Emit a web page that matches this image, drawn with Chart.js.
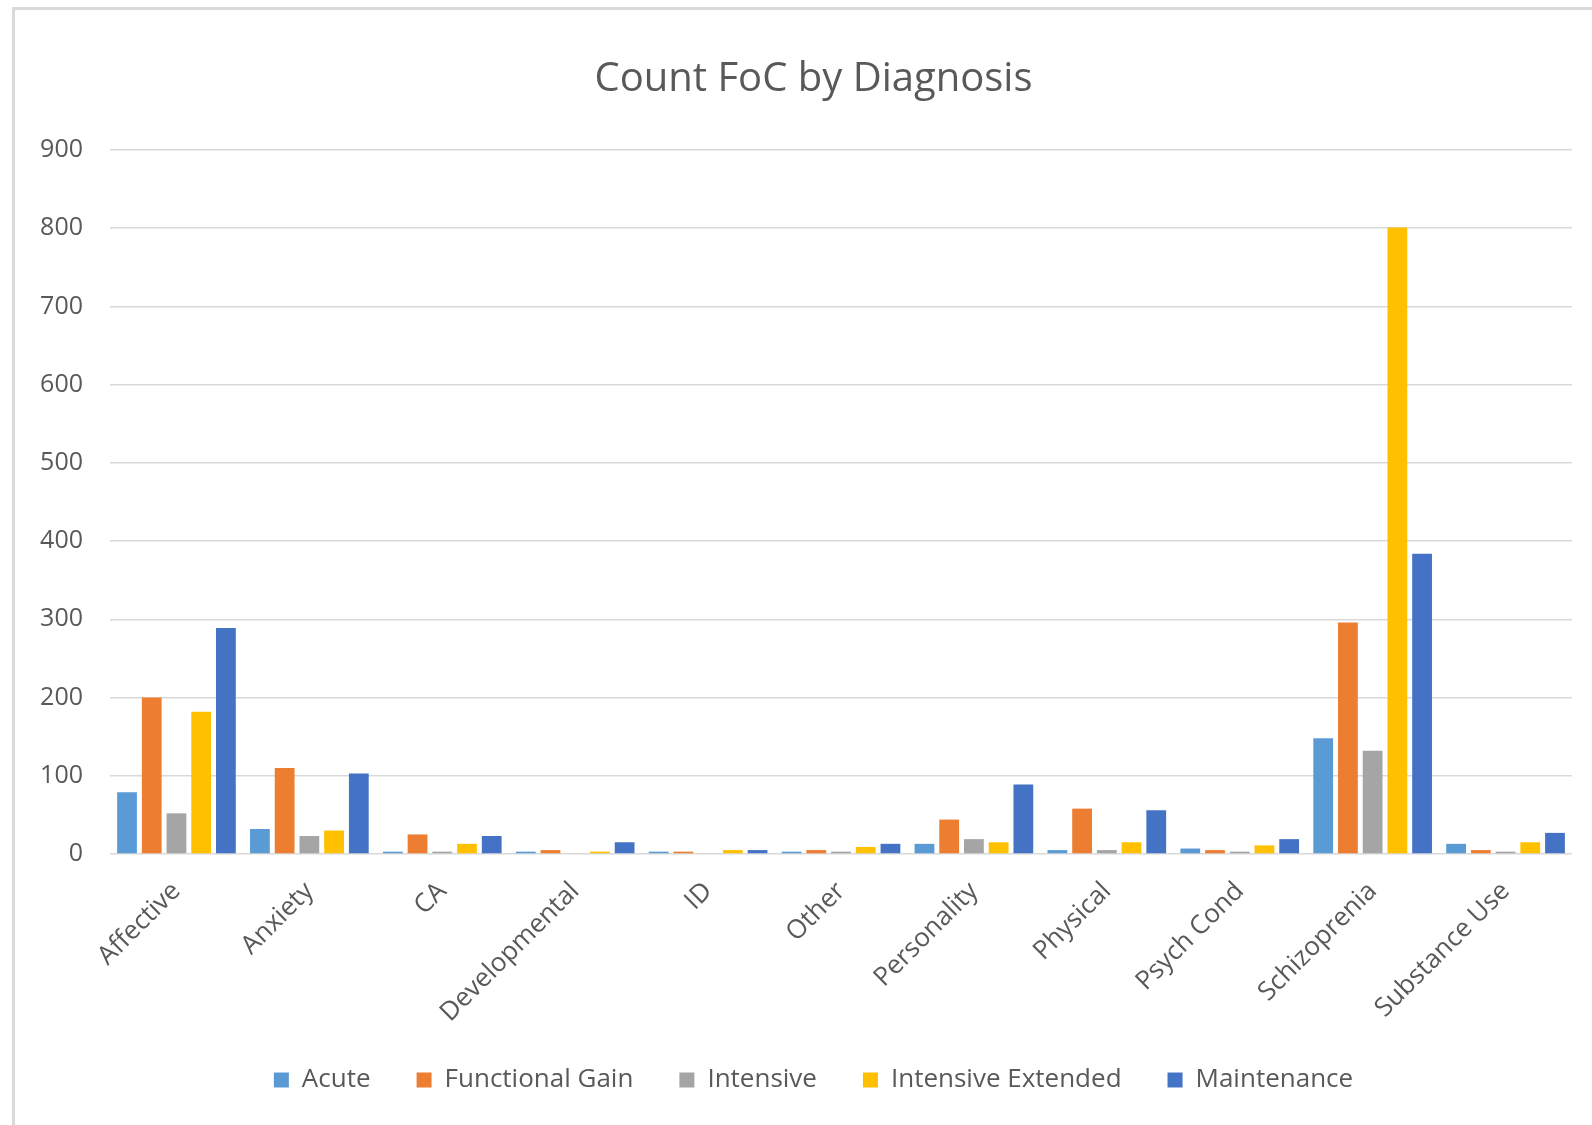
<!DOCTYPE html>
<html>
<head>
<meta charset="utf-8">
<script src="https://cdn.jsdelivr.net/npm/chart.js@4"></script>
<style>
  html, body { margin: 0; padding: 0; background: #fff; }
  #wrap { position: absolute; left: 0; top: 0; width: 1592px; height: 1125px; }
  #frame { position: absolute; left: 12px; top: 7px; width: 1600px; height: 1200px; border: 3px solid #d9d9d9; box-sizing: border-box; pointer-events: none; }
</style>
</head>
<body>
<div id="wrap"><canvas id="c" width="1592" height="1125"></canvas></div>
<div id="frame"></div>
<script>
const categories = ["Affective", "Anxiety", "CA", "Developmental", "ID", "Other", "Personality", "Physical", "Psych Cond", "Schizoprenia", "Substance Use"];
const acute             = [79, 32, 3, 3, 3, 3, 13, 5, 7, 148, 13];
const functionalGain    = [200, 110, 25, 5, 3, 5, 44, 58, 5, 296, 5];
const intensive         = [52, 23, 3, 0, 0, 3, 19, 5, 3, 132, 3];
const intensiveExtended = [182, 30, 13, 3, 5, 9, 15, 15, 11, 801, 15];
const maintenance       = [289, 103, 23, 15, 5, 13, 89, 56, 19, 384, 27];
const seriesNames = ["Acute", "Functional Gain", "Intensive", "Intensive Extended", "Maintenance"];
const yTicks = [0, 100, 200, 300, 400, 500, 600, 700, 800, 900];

const colors = ["#5B9BD5", "#ED7D31", "#A5A5A5", "#FFC000", "#4472C4"];
const seriesData = [acute, functionalGain, intensive, intensiveExtended, maintenance];
const FONT = "'Open Sans', 'Liberation Sans', sans-serif";
const TXT = "#595959";

// shift the centred title and legend to the right, as in the original
const centerShift = {
  id: "centerShift",
  afterLayout(chart) {
    if (chart.titleBlock) chart.titleBlock.left += 40;
    if (chart.legend) chart.legend.left += 40;
  }
};

new Chart(document.getElementById("c"), {
  type: "bar",
  data: {
    labels: categories,
    datasets: seriesNames.map((n, i) => ({
      label: n,
      data: seriesData[i],
      backgroundColor: colors[i],
      borderWidth: 0,
      categoryPercentage: 0.93,
      barPercentage: 0.8
    }))
  },
  plugins: [centerShift],
  options: {
    responsive: false,
    animation: false,
    layout: { padding: { left: 15, right: 20, top: 10, bottom: 22 } },
    plugins: {
      title: {
        display: true,
        text: "Count FoC by Diagnosis",
        color: TXT,
        font: { family: FONT, size: 40, weight: "normal" },
        padding: { top: 46, bottom: 46 }
      },
      legend: {
        position: "bottom",
        labels: {
          color: TXT,
          font: { family: FONT, size: 26 },
          boxWidth: 15,
          boxHeight: 15,
          padding: 46
        }
      },
      tooltip: { enabled: false }
    },
    scales: {
      x: {
        grid: { display: false },
        border: { display: false },
        ticks: {
          color: TXT,
          font: { family: FONT, size: 26 },
          maxRotation: 45,
          minRotation: 45,
          padding: 14
        },
        afterFit: s => { s.height = 167; }
      },
      y: {
        min: 0,
        max: 900,
        afterBuildTicks: s => { s.ticks = yTicks.map(v => ({ value: v })); },
        grid: { color: "#d9d9d9", lineWidth: 1.5, drawTicks: false },
        border: { display: false },
        ticks: {
          color: TXT,
          font: { family: FONT, size: 25 },
          padding: 27
        },
        afterFit: s => { s.width = 95; }
      }
    }
  }
});
</script>
</body>
</html>
